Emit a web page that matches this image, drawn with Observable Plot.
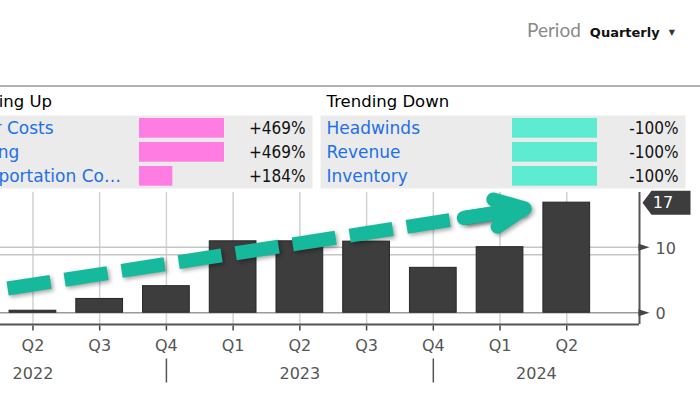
<!DOCTYPE html>
<html><head><meta charset="utf-8">
<script src="https://cdn.jsdelivr.net/npm/d3@7"></script>
<script src="https://cdn.jsdelivr.net/npm/@observablehq/plot@0.6"></script>
<style>
html,body{margin:0;padding:0;background:#fff;}
body{width:700px;height:394px;overflow:hidden;position:relative;font-family:"DejaVu Sans",sans-serif;}
#period{position:absolute;left:527px;top:17.6px;white-space:nowrap;line-height:24px;font-family:Lato,sans-serif;font-size:19px;color:#8a8a8a;}
#period b{font-family:"DejaVu Sans",sans-serif;font-size:13px;color:#111;margin-left:9px;}
#period .caret{font-family:"DejaVu Sans",sans-serif;font-size:8px;color:#333;margin-left:9px;vertical-align:2px;}
#rule{position:absolute;left:0;top:84.5px;width:700px;height:2px;background:#b3b3b3;}
#up{position:absolute;left:-53px;top:88px;width:365px;}
#down{position:absolute;left:320px;top:88px;width:365px;}
#chart{position:absolute;left:-101px;top:188px;width:801px;}
svg{display:block;}
</style></head><body>
<div id="period">Period<b>Quarterly</b><span class="caret">▼</span></div>
<div id="rule"></div>
<div id="up"></div><div id="down"></div><div id="chart"></div>
<script>
// ---- data ----
const quarters = ["Q2", "Q3", "Q4", "Q1", "Q2", "Q3", "Q4", "Q1", "Q2"];
const years = [2022, 2023, 2024];
const values = [0.3, 2.1, 4.05, 10.9, 10.9, 10.85, 6.85, 10.0, 16.8];
const yTicks = [0, 10];
const refLine = [8.85];

const upTitle = "Trending Up";
const upTopics = ["Labor Costs", "Staffing", "Transportation Co…"];
const upValues = [469, 469, 184];
const downTitle = "Trending Down";
const downTopics = ["Headwinds", "Revenue", "Inventory"];
const downValues = [-100, -100, -100];

// trend arrow annotation (quarter index, value)
const trendX = [-0.38, 7.37];
const trendY = [3.69, 15.9];

// ---- panels ----
function panel(title, topics, vals, color) {
  const rows = topics.map((t, i) => ({topic: t, value: vals[i]}));
  const maxAbs = d3.max(vals, v => Math.abs(v));
  return Plot.plot({
    width: 365, height: 100,
    marginTop: 27, marginBottom: 0, marginLeft: 0, marginRight: 0,
    style: {fontFamily: "DejaVu Sans", background: "transparent", overflow: "visible"},
    x: {domain: [0, maxAbs], range: [192, 277], axis: null},
    y: {domain: topics, padding: 0, axis: null},
    marks: [
      Plot.frame({fill: "#ebebeb", stroke: "none"}),
      Plot.barX(rows, {x: d => Math.abs(d.value), y: "topic", fill: color, insetTop: 2, insetBottom: 2.3}),
      Plot.text(rows, {y: "topic", text: "topic", frameAnchor: "left", lineAnchor: "middle", dx: 6, textAnchor: "start", fill: "#1f6fe8", fontSize: 17}),
      Plot.text(rows, {y: "topic", text: d => (d.value > 0 ? "+" : "") + d.value + "%", frameAnchor: "right", lineAnchor: "middle", dx: -7, textAnchor: "end", fill: "#111", fontSize: 17, fontFamily: "DejaVu Sans Condensed, DejaVu Sans"}),
      Plot.text([title], {frameAnchor: "top-left", lineAnchor: "middle", dx: 6, dy: -13.6, textAnchor: "start", fill: "#000", fontSize: 16.5})
    ]
  });
}
document.getElementById("up").append(panel(upTitle, upTopics, upValues, "#ff7de2"));
document.getElementById("down").append(panel(downTitle, downTopics, downValues, "#5decd2"));

// ---- chart ----
const X_MIN = -2, X_MAX = 9.09, Y_MIN = -1.8, Y_MAX = 18.35;
const xIndex = quarters.map((_, i) => i);
const bars = quarters.map((q, i) => ({i, q, v: values[i]}));
const sepIdx = xIndex.filter(i => quarters[i] === "Q4");
const bounds = [X_MIN, ...sepIdx, X_MAX];
const yearLabels = years.map((y, k) => ({year: String(y), x: (bounds[k] + bounds[k + 1]) / 2}));
const trend = [{x1: trendX[0], y1: trendY[0], x2: trendX[1], y2: trendY[1]}];
const last = values[values.length - 1];
const DASH = 43.5, GAP = 14.2;
const TEAL = "#17b99c";

const vline = (a, b) => ({draw(ctx) { ctx.moveTo(0, a); ctx.lineTo(0, b); }});
const triRight = {draw(ctx) { ctx.moveTo(-1, -3.5); ctx.lineTo(10, 0); ctx.lineTo(-1, 3.5); ctx.closePath(); }};
const tagSym = {draw(ctx) { ctx.moveTo(3, 0); ctx.lineTo(12, -12); ctx.lineTo(51, -12); ctx.lineTo(51, 12); ctx.lineTo(12, 12); ctx.closePath(); }};

const chart = Plot.plot({
  width: 801, height: 206,
  marginTop: 4, marginBottom: 70, marginLeft: 0, marginRight: 61,
  style: {fontFamily: "DejaVu Sans", background: "transparent", overflow: "visible", color: "#555"},
  x: {domain: [X_MIN, X_MAX], axis: null},
  y: {domain: [Y_MIN, Y_MAX], axis: null},
  marks: [
    Plot.ruleX(xIndex, {x: d => d, stroke: "#d2d2d2", strokeWidth: 1.5}),
    Plot.ruleY(yTicks.filter(t => t !== 0), {y: d => d, stroke: "#c6c6c6", strokeWidth: 1.5}),
    Plot.ruleY(refLine, {y: d => d, stroke: "#c6c6c6", strokeWidth: 1.5}),
    Plot.ruleY([0], {y: d => d, stroke: "#9a9a9a", strokeWidth: 1.5}),
    Plot.rectY(bars, {x1: d => d.i - 0.5, x2: d => d.i + 0.5, y1: () => 0, y2: "v", insetLeft: 10, insetRight: 10, fill: "#3d3d3d", stroke: "#262626", strokeWidth: 1}),
    Plot.link(trend, {x1: "x1", y1: "y1", x2: "x2", y2: "y2", stroke: TEAL, strokeWidth: 14, strokeDasharray: `${DASH},${GAP}`}),
    Plot.arrow(trend, {x1: "x1", y1: "y1", x2: "x2", y2: "y2", stroke: TEAL, strokeWidth: 14, headAngle: 50, headLength: 3.5, insetStart: 8 * (DASH + GAP), strokeLinejoin: "round"}),
    Plot.ruleY([Y_MIN], {y: d => d, stroke: "#555", strokeWidth: 2}),
    Plot.ruleX([X_MAX], {x: d => d, stroke: "#555", strokeWidth: 2}),
    Plot.dot(xIndex, {x: d => d, frameAnchor: "bottom", symbol: vline(1, 6), stroke: "#444", strokeWidth: 1.5, fill: "none"}),
    Plot.dot(sepIdx, {x: d => d, frameAnchor: "bottom", symbol: vline(34, 58), stroke: "#555", strokeWidth: 1.5, fill: "none"}),
    Plot.text(xIndex, {x: d => d, text: d => quarters[d], frameAnchor: "bottom", lineAnchor: "middle", dy: 21, fill: "#555", fontSize: 16}),
    Plot.text(yearLabels, {x: "x", text: "year", frameAnchor: "bottom", lineAnchor: "middle", dy: 49, fill: "#555", fontSize: 16}),
    Plot.dot(yTicks, {x: () => X_MAX, y: d => d, symbol: triRight, fill: "#444", stroke: "none"}),
    Plot.text(yTicks, {x: () => X_MAX, y: d => d, text: d => String(d), dx: 16, dy: 1.5, textAnchor: "start", fill: "#555", fontSize: 16}),
    Plot.dot([last], {x: () => X_MAX, y: d => d, symbol: tagSym, fill: "#3d3d3d", stroke: "none"}),
    Plot.text([last], {x: () => X_MAX, y: d => d, text: d => String(Math.round(d)), dx: 23.5, dy: 0.5, fill: "#fff", fontSize: 16})
  ]
});
chart.querySelectorAll('g[aria-label="link"], g[aria-label="arrow"]').forEach(g => {
  g.style.filter = "drop-shadow(2px 2px 2px rgba(0,0,0,0.35))";
});
document.getElementById("chart").append(chart);
</script>
</body></html>
